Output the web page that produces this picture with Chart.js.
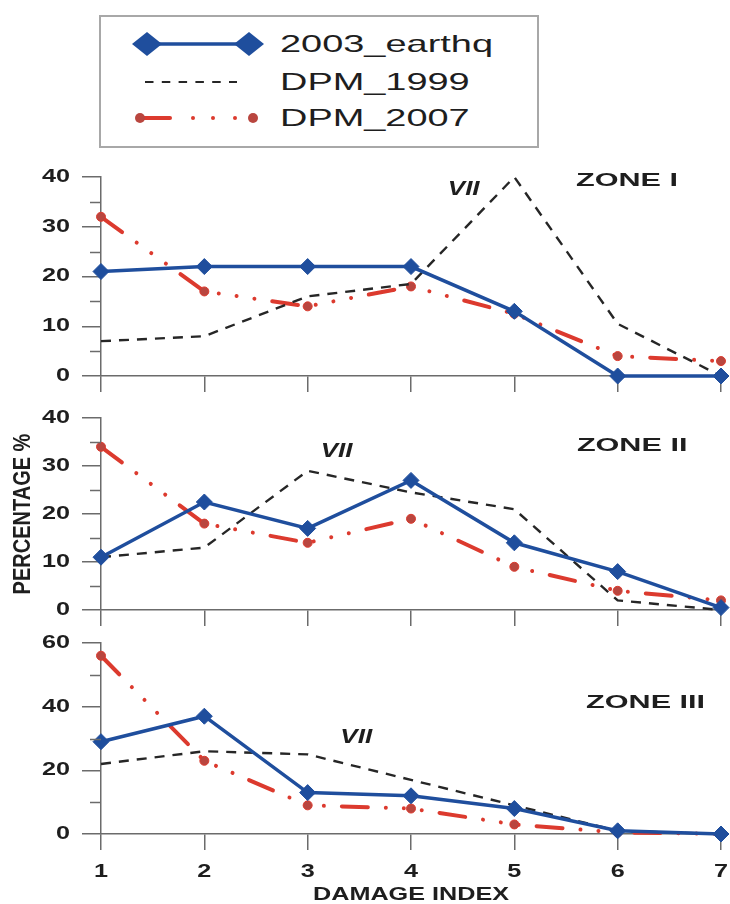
<!DOCTYPE html>
<html>
<head>
<meta charset="utf-8">
<script src="https://cdn.jsdelivr.net/npm/chart.js@4.4.1/dist/chart.umd.min.js"></script>
<style>
body{margin:0;background:#fff;width:730px;height:904px;position:relative;overflow:hidden;font-family:"Liberation Sans",Arial,sans-serif}
canvas.zone{position:absolute;left:0}
#legend{position:absolute;left:99px;top:15px;width:440px;height:133px;box-sizing:border-box;border:2px solid #a8a8a8;background:#fff}
#legend canvas{position:absolute;left:24px}
#legend span{position:absolute;left:179px;height:36px;line-height:36px;font-size:24px;color:#1e1e1e;transform:scaleX(1.58);transform-origin:0 50%;white-space:nowrap}
</style>
</head>
<body>
<div id="legend">
  <canvas id="lg0" width="150" height="36" style="top:9px"></canvas><span id="lt0" style="top:9px"></span>
  <canvas id="lg1" width="150" height="36" style="top:47px"></canvas><span id="lt1" style="top:47px"></span>
  <canvas id="lg2" width="150" height="36" style="top:83px"></canvas><span id="lt2" style="top:83px"></span>
</div>
<canvas class="zone" id="zone1" width="730" height="250" style="top:150px"></canvas>
<canvas class="zone" id="zone2" width="730" height="230" style="top:400px"></canvas>
<canvas class="zone" id="zone3" width="730" height="274" style="top:630px"></canvas>
<script>
// data
const damageIndex = [1, 2, 3, 4, 5, 6, 7];
const seriesNames = ['2003_earthq', 'DPM_1999', 'DPM_2007'];
const zoneNames = ['ZONE I', 'ZONE II', 'ZONE III'];

const zone1_2003 = [21, 22, 22, 22, 13, 0, 0];
const zone1_dpm1999 = [7, 8, 16, 18.5, 40, 10.5, 0];
const zone1_dpm2007 = [32, 17, 14, 18, 12.5, 4, 3];

const zone2_2003 = [11, 22.5, 17, 27, 14, 8, 0.5];
const zone2_dpm1999 = [11, 13, 29, 24.5, 21, 2, 0];
const zone2_dpm2007 = [34, 18, 14, 19, 9, 4, 2];

const zone3_2003 = [29, 37, 13, 12, 8, 1, 0];
const zone3_dpm1999 = [22, 26, 25, 17, 9, 1, 0];
const zone3_dpm2007 = [56, 23, 9, 8, 3, 0.5, 0];

const yMax = [40, 40, 60];
const yStep = [10, 10, 20];

// styles
const BLUE = '#1f4e9d';
const BLACK = '#262626';
const RED = '#dc3a2e';
const RED_PT = '#b9463f';
const AXIS = '#6b6b6b';
const TEXT = '#1e1e1e';
const FONT = '"Liberation Sans", Arial, sans-serif';

function wideText(ctx, text, x, y, font, sx, align) {
  ctx.save();
  ctx.font = font;
  ctx.textBaseline = 'middle';
  ctx.textAlign = align;
  ctx.translate(x, y);
  ctx.scale(sx, 1);
  ctx.fillText(text, 0, 0);
  ctx.restore();
}

const zoneText = {
  id: 'zoneText',
  afterDraw(chart, args, opts) {
    const ctx = chart.ctx;
    const xs = chart.scales.x, ys = chart.scales.y;
    const area = chart.chartArea;
    ctx.save();
    // minor y ticks
    ctx.strokeStyle = AXIS;
    ctx.lineWidth = 1.5;
    for (let v = opts.step / 2; v < opts.max; v += opts.step) {
      const py = Math.round(ys.getPixelForValue(v)) + 0.5;
      ctx.beginPath();
      ctx.moveTo(area.left - 11, py);
      ctx.lineTo(area.left, py);
      ctx.stroke();
    }
    ctx.fillStyle = TEXT;
    ys.ticks.forEach(t => {
      wideText(ctx, String(t.value), 70, ys.getPixelForValue(t.value), 'bold 18px ' + FONT, 1.4, 'right');
    });
    if (opts.xLabels) {
      xs.ticks.forEach(t => {
        wideText(ctx, String(t.value), xs.getPixelForValue(t.value), area.bottom + 38, 'bold 18px ' + FONT, 1.4, 'center');
      });
      wideText(ctx, 'DAMAGE INDEX', (area.left + area.right) / 2, area.bottom + 61, 'bold 18px ' + FONT, 1.4, 'center');
    }
    if (opts.yTitle) {
      ctx.save();
      ctx.translate(23, (area.top + area.bottom) / 2);
      ctx.rotate(-Math.PI / 2);
      ctx.scale(1, 1.2);
      ctx.font = 'bold 20px ' + FONT;
      ctx.textAlign = 'center';
      ctx.textBaseline = 'middle';
      ctx.fillText('PERCENTAGE %', 0, 0);
      ctx.restore();
    }
    wideText(ctx, opts.zone, xs.getPixelForValue(opts.zoneAt[0]), ys.getPixelForValue(opts.zoneAt[1]), 'bold 18px ' + FONT, 1.7, 'center');
    wideText(ctx, 'VII', xs.getPixelForValue(opts.viiAt[0]), ys.getPixelForValue(opts.viiAt[1]), 'italic bold 20px ' + FONT, 1.3, 'center');
    ctx.restore();
  }
};

function points(arr) {
  return damageIndex.map((x, i) => ({x: x, y: arr[i]}));
}

function makeZone(id, k, s2003, s1999, s2007, cfg) {
  return new Chart(document.getElementById(id), {
    type: 'line',
    data: {
      datasets: [
        {
          label: seriesNames[0], data: points(s2003),
          borderColor: BLUE, borderWidth: 3.5,
          pointStyle: 'rectRot', pointRadius: 8, pointBackgroundColor: BLUE, pointBorderColor: BLUE, pointBorderWidth: 1,
          clip: false
        },
        {
          label: seriesNames[1], data: points(s1999),
          borderColor: BLACK, borderWidth: 2.4, borderDash: [10, 8],
          pointRadius: 0, clip: false
        },
        {
          label: seriesNames[2], data: points(s2007),
          borderColor: RED, borderWidth: 4, borderCapStyle: 'round',
          borderDash: [26, 18, 0.01, 18, 0.01, 18, 0.01, 18],
          pointStyle: 'circle', pointRadius: 4.5, pointBackgroundColor: RED_PT, pointBorderColor: RED, pointBorderWidth: 1,
          clip: false
        }
      ]
    },
    options: {
      responsive: false,
      animation: false,
      layout: {padding: {top: cfg.padTop, right: 9, bottom: 0, left: 0}},
      plugins: {
        legend: {display: false},
        tooltip: {enabled: false},
        zoneText: {
          zone: zoneNames[k], zoneAt: cfg.zoneAt, viiAt: cfg.viiAt,
          step: yStep[k], max: yMax[k], xLabels: cfg.xLabels, yTitle: cfg.yTitle
        }
      },
      scales: {
        x: {
          type: 'linear', min: 1, max: 7,
          ticks: {stepSize: 1, color: 'rgba(0,0,0,0)'},
          grid: {drawOnChartArea: false, tickLength: 16, color: AXIS, lineWidth: 1.5},
          border: {color: AXIS, width: 1.5},
          afterFit: s => { s.height = cfg.xHeight; }
        },
        y: {
          min: 0, max: yMax[k],
          ticks: {stepSize: yStep[k], color: 'rgba(0,0,0,0)'},
          grid: {drawOnChartArea: false, tickLength: 19, color: AXIS, lineWidth: 1.5},
          border: {color: AXIS, width: 1.5},
          afterFit: s => { s.width = 101; }
        }
      }
    },
    plugins: [zoneText]
  });
}

makeZone('zone1', 0, zone1_2003, zone1_dpm1999, zone1_dpm2007,
  {padTop: 27, xHeight: 24, zoneAt: [6.09, 39.2], viiAt: [4.51, 37.4], xLabels: false, yTitle: false});
makeZone('zone2', 1, zone2_2003, zone2_dpm1999, zone2_dpm2007,
  {padTop: 18, xHeight: 20, zoneAt: [6.14, 34.2], viiAt: [3.28, 33.1], xLabels: false, yTitle: true});
makeZone('zone3', 2, zone3_2003, zone3_dpm1999, zone3_dpm2007,
  {padTop: 13, xHeight: 70, zoneAt: [6.27, 41.0], viiAt: [3.47, 30.2], xLabels: true, yTitle: false});

// legend
seriesNames.forEach((n, i) => { document.getElementById('lt' + i).textContent = n; });

function diamond(ctx, x, y, hw, hh) {
  ctx.beginPath();
  ctx.moveTo(x - hw, y); ctx.lineTo(x, y - hh); ctx.lineTo(x + hw, y); ctx.lineTo(x, y + hh);
  ctx.closePath(); ctx.fill();
}
function dot(ctx, x, y, r) {
  ctx.beginPath(); ctx.arc(x, y, r, 0, Math.PI * 2); ctx.fill();
}

let c = document.getElementById('lg0').getContext('2d');
c.strokeStyle = BLUE; c.fillStyle = BLUE; c.lineWidth = 3.5;
c.beginPath(); c.moveTo(22, 18); c.lineTo(124, 18); c.stroke();
diamond(c, 22, 18, 15, 12); diamond(c, 124, 18, 15, 12);

c = document.getElementById('lg1').getContext('2d');
c.strokeStyle = BLACK; c.lineWidth = 2.2; c.setLineDash([8.5, 8.3]);
c.beginPath(); c.moveTo(20, 18); c.lineTo(112, 18); c.stroke();

c = document.getElementById('lg2').getContext('2d');
c.strokeStyle = RED; c.lineWidth = 4; c.lineCap = 'round';
c.beginPath(); c.moveTo(15, 18); c.lineTo(45, 18); c.stroke();
c.fillStyle = RED;
[68, 88, 110].forEach(x => dot(c, x, 18, 2));
c.fillStyle = RED_PT;
dot(c, 15, 18, 5); dot(c, 128, 18, 5);
</script>
</body>
</html>
